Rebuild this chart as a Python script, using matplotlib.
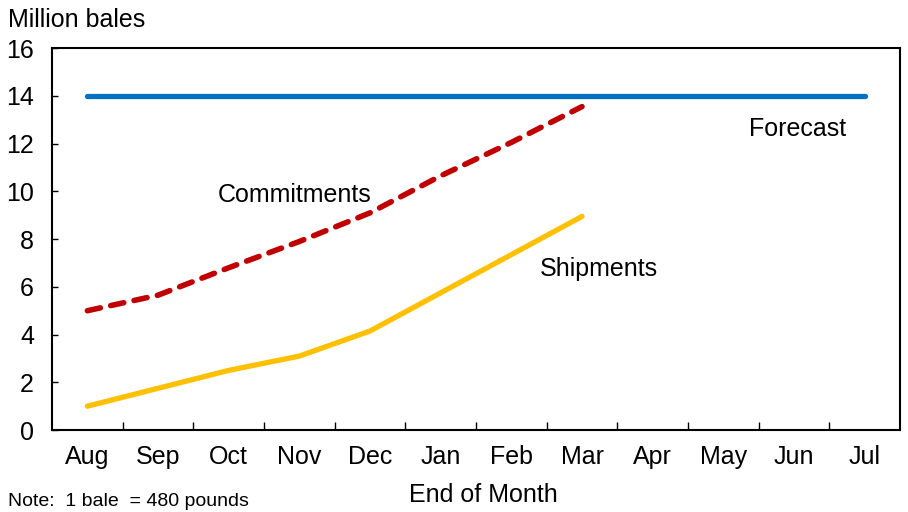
import matplotlib.pyplot as plt

months = ["Aug", "Sep", "Oct", "Nov", "Dec", "Jan", "Feb", "Mar", "Apr", "May", "Jun", "Jul"]
forecast = [14, 14, 14, 14, 14, 14, 14, 14, 14, 14, 14, 14]
commitments = [5.0, 5.65, 6.8, 7.9, 9.1, 10.65, 12.05, 13.55]
shipments = [1.0, 1.75, 2.5, 3.1, 4.15, 5.75, 7.35, 8.95]

plt.rcParams['font.family'] = ['Liberation Sans', 'DejaVu Sans']

fig = plt.figure(figsize=(9.08, 5.12), dpi=100)
ax = fig.add_axes([0.0573, 0.160, 0.9339, 0.746])

x_all = list(range(len(months)))
ax.plot(x_all, forecast, color='#0070C0', lw=3.8, solid_capstyle='round')
ax.plot(x_all[:len(commitments)], commitments, color='#C00000', lw=4.0,
        linestyle=(0, (2.4, 1.9)), dash_capstyle='round')
ax.plot(x_all[:len(shipments)], shipments, color='#FFC000', lw=3.8,
        solid_capstyle='round')

ax.text(9.36, 12.6, "Forecast", fontsize=18, va='center', ha='left')
ax.text(1.84, 9.83, "Commitments", fontsize=18, va='center', ha='left')
ax.text(6.40, 6.74, "Shipments", fontsize=18, va='center', ha='left')

ax.set_xlim(-0.5, 11.5)
ax.set_ylim(0, 16)
ax.set_yticks(range(0, 17, 2))
ax.set_xticks(x_all)
ax.set_xticklabels(months)
ax.set_xticks([i + 0.5 for i in range(11)], minor=True)
ax.tick_params(axis='x', which='major', length=0, pad=11, labelsize=18)
ax.tick_params(axis='x', which='minor', direction='in', length=6, width=1)
ax.tick_params(axis='y', direction='in', length=4, width=1, pad=13, labelsize=18)

for s in ax.spines.values():
    s.set_linewidth(1.5)
    s.set_color('black')

fig.text(8 / 908, 1 - 20 / 512, "Million bales", fontsize=18, va='center', ha='left')
fig.text(483 / 908, 1 - 495 / 512, "End of Month", fontsize=18, va='center', ha='center')
fig.text(8 / 908, 2 / 512, "Note:  1 bale  = 480 pounds", fontsize=14, va='bottom', ha='left')

fig.savefig("out.png", dpi=100)
